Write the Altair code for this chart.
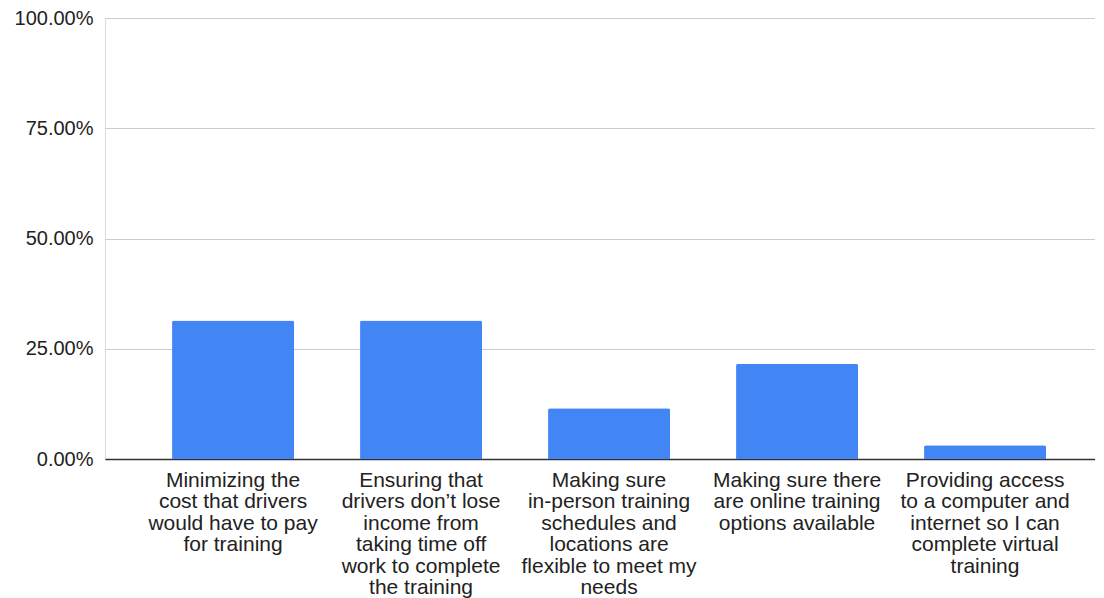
import altair as alt
import pandas as pd

categories = [
    "Minimizing the|cost that drivers|would have to pay|for training",
    "Ensuring that|drivers don’t lose|income from|taking time off|work to complete|the training",
    "Making sure|in-person training|schedules and|locations are|flexible to meet my|needs",
    "Making sure there|are online training|options available",
    "Providing access|to a computer and|internet so I can|complete virtual|training",
]
values = [0.314, 0.314, 0.115, 0.216, 0.031]

df = pd.DataFrame({"cat": categories, "val": values})

chart = alt.Chart(df).mark_bar(
    color="#4285F4", cornerRadiusTopLeft=2, cornerRadiusTopRight=2
).encode(
    x=alt.X(
        "cat:N",
        sort=categories,
        title=None,
        scale=alt.Scale(paddingInner=0.351, paddingOuter=0.3085, align=0.578),
        axis=alt.Axis(
            labelAngle=0,
            labelExpr="split(datum.value, '|')",
            labelFont="Liberation Sans",
            labelFontSize=21,
            labelColor="#222222",
            labelLineHeight=21.5,
            labelPadding=10,
            labelLimit=300,
            labelBaseline="top",
            ticks=False,
            domainColor="#333333",
            domainWidth=1.5,
            grid=False,
        ),
    ),
    y=alt.Y(
        "val:Q",
        title=None,
        scale=alt.Scale(domain=[0, 1]),
        axis=alt.Axis(
            values=[0, 0.25, 0.5, 0.75, 1.0],
            format=".2%",
            labelFont="Liberation Sans",
            labelFontSize=20,
            labelColor="#222222",
            labelPadding=12,
            ticks=False,
            domain=False,
            gridColor="#cccccc",
            gridWidth=1,
        ),
    ),
).properties(
    width=990,
    height=441,
    autosize=alt.AutoSizeParams(type="none"),
    padding={"left": 97, "top": 10, "right": 0, "bottom": 139},
).configure_view(stroke=None).configure(background="white")

chart.save("out.html", embed_options={"renderer": "svg", "actions": False})
